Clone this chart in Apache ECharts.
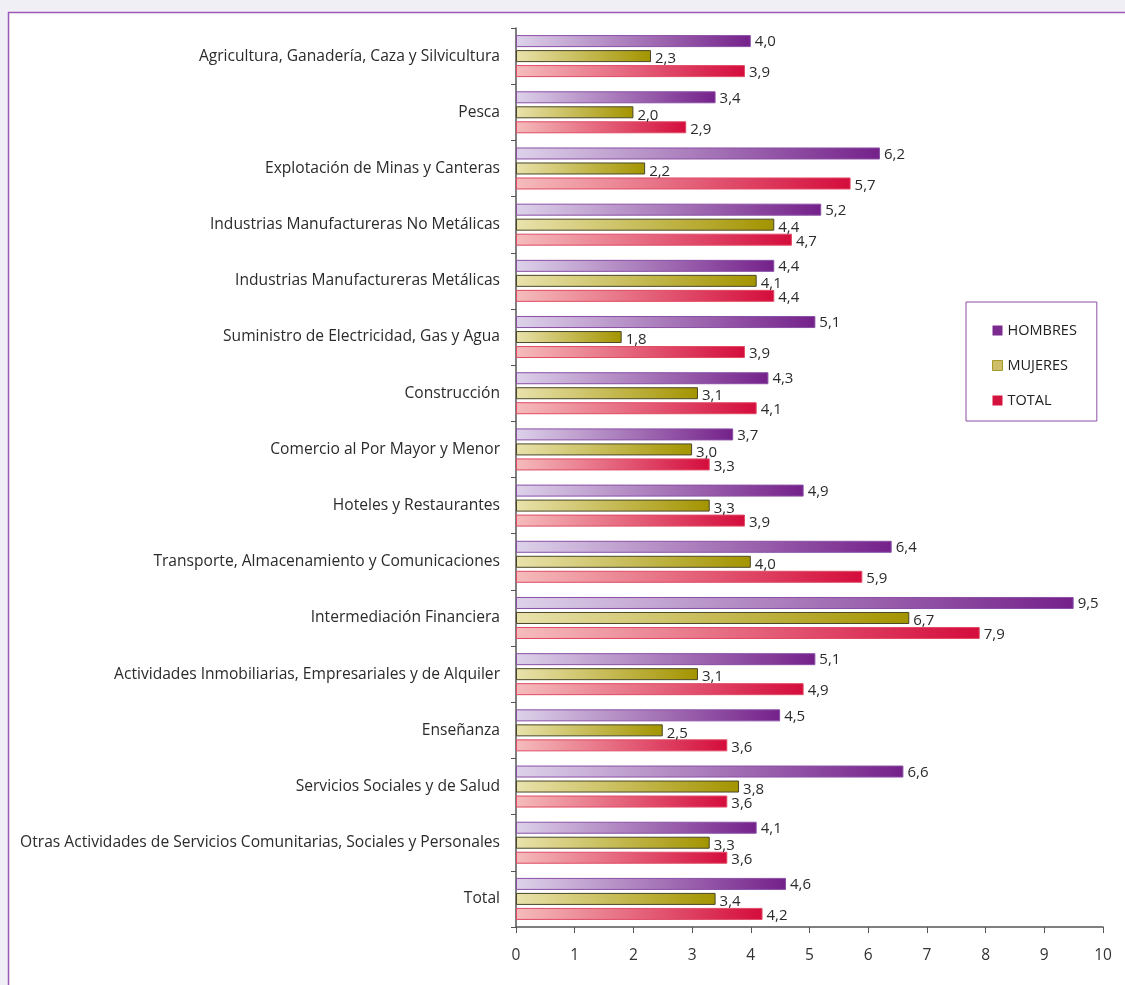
<!DOCTYPE html>
<html>
<head>
<meta charset="utf-8">
<script src="https://cdn.jsdelivr.net/npm/echarts@6/dist/echarts.min.js"></script>
<style>
  html, body { margin: 0; padding: 0; background: #f1eff6; overflow: hidden; }
  #main { width: 1125px; height: 985px; }
</style>
</head>
<body>
<div id="main"></div>
<script>
    // datos de la gráfica (de arriba hacia abajo)
    var categorias = [
        'Agricultura, Ganadería, Caza y Silvicultura',
        'Pesca',
        'Explotación de Minas y Canteras',
        'Industrias Manufactureras No Metálicas',
        'Industrias Manufactureras Metálicas',
        'Suministro de Electricidad, Gas y Agua',
        'Construcción',
        'Comercio al Por Mayor y Menor',
        'Hoteles y Restaurantes',
        'Transporte, Almacenamiento y Comunicaciones',
        'Intermediación Financiera',
        'Actividades Inmobiliarias, Empresariales y de Alquiler',
        'Enseñanza',
        'Servicios Sociales y de Salud',
        'Otras Actividades de Servicios Comunitarias, Sociales y Personales',
        'Total'
    ];
    var hombres = [4.0, 3.4, 6.2, 5.2, 4.4, 5.1, 4.3, 3.7, 4.9, 6.4, 9.5, 5.1, 4.5, 6.6, 4.1, 4.6];
    var mujeres = [2.3, 2.0, 2.2, 4.4, 4.1, 1.8, 3.1, 3.0, 3.3, 4.0, 6.7, 3.1, 2.5, 3.8, 3.3, 3.4];
    var total   = [3.9, 2.9, 5.7, 4.7, 4.4, 3.9, 4.1, 3.3, 3.9, 5.9, 7.9, 4.9, 3.6, 3.6, 3.6, 4.2];

    var fuente = 'Open Sans';
    var chart = echarts.init(document.getElementById('main'));

    function grad(c1, c2) {
        return new echarts.graphic.LinearGradient(0, 0, 1, 0, [
            {offset: 0, color: c1},
            {offset: 1, color: c2}
        ]);
    }

    function etiqueta(dy) {
        return {
            show: true,
            position: 'right',
            distance: 4,
            offset: [0, dy],
            color: '#2b2b2b',
            fontFamily: fuente,
            fontSize: 15,
            formatter: function (p) {
                return p.value.toFixed(1).replace('.', ',');
            }
        };
    }

    function serie(nombre, datos, c1, c2, borde, dy) {
        return {
            name: nombre,
            type: 'bar',
            data: datos,
            barWidth: 12,
            barGap: '25%',
            itemStyle: {color: grad(c1, c2), borderColor: borde, borderWidth: 1},
            label: etiqueta(dy)
        };
    }

    var option = {
        animation: false,
        backgroundColor: '#f1eff6',
        graphic: [{
            type: 'rect',
            z: -10,
            shape: {x: 8.5, y: 12.5, width: 1140, height: 1000},
            style: {fill: '#ffffff', stroke: '#9b59b6', lineWidth: 1.5}
        }],
        textStyle: {fontFamily: fuente},
        legend: {
            orient: 'vertical',
            left: 966,
            top: 302,
            data: [
                {name: 'HOMBRES', itemStyle: {color: '#7b2a8f', borderWidth: 0}},
                {name: 'MUJERES', itemStyle: {color: '#cdbf6a', borderColor: '#a8982a', borderWidth: 1}},
                {name: 'TOTAL', itemStyle: {color: '#d4123e', borderWidth: 0}}
            ],
            icon: 'rect',
            itemWidth: 10,
            itemHeight: 10,
            itemGap: 20,
            borderColor: '#8a4fa5',
            borderWidth: 1,
            padding: [21, 20, 13, 26],
            textStyle: {fontFamily: fuente, fontSize: 14.5, color: '#222', lineHeight: 14}
        },
        grid: {left: 516, right: 22, top: 28, bottom: 58, containLabel: false},
        xAxis: {
            type: 'value',
            min: 0,
            max: 10,
            interval: 1,
            splitLine: {show: false},
            axisLine: {show: true, lineStyle: {color: '#555', width: 1.5}},
            axisTick: {show: true, length: 6, lineStyle: {color: '#555'}},
            axisLabel: {color: '#333', fontSize: 15.5, margin: 21, fontFamily: fuente}
        },
        yAxis: {
            type: 'category',
            data: categorias,
            inverse: true,
            axisLine: {show: true, lineStyle: {color: '#555', width: 1.5}},
            axisTick: {show: true, length: 5, lineStyle: {color: '#555'}},
            axisLabel: {color: '#2b2b2b', fontSize: 15.6, margin: 16, fontFamily: fuente}
        },
        series: [
            serie('HOMBRES', hombres, '#ddd2ea', '#74218a', '#8a4fa5', 1),
            serie('MUJERES', mujeres, '#e9e2ac', '#a39400', '#4a4628', 3),
            serie('TOTAL', total, '#f5bcbc', '#d40c3c', '#e04a64', 2)
        ]
    };

    chart.setOption(option);
</script>
</body>
</html>
